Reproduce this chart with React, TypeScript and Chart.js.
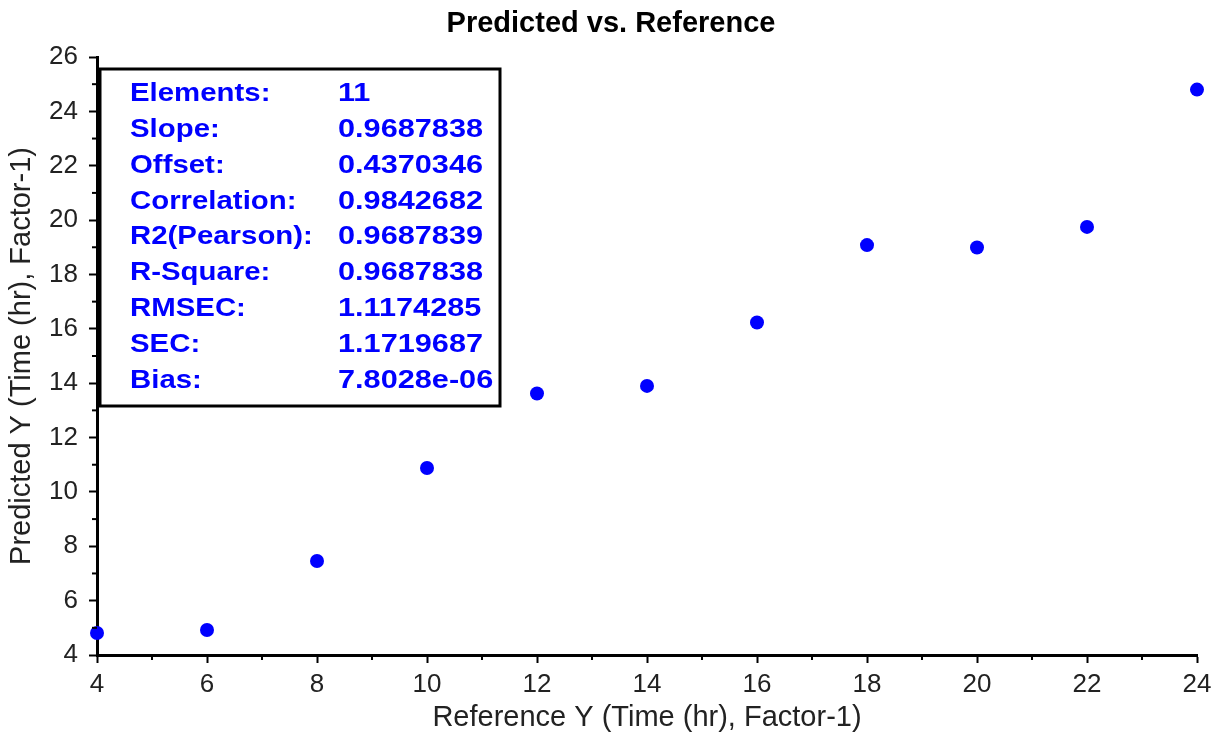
import { useEffect, useRef } from 'react';
import { Chart, registerables } from 'chart.js';

Chart.register(...registerables);

const referenceY = [4, 6, 8, 10, 12, 14, 16, 18, 20, 22, 24];
const predictedY = [4.81, 4.92, 7.46, 10.88, 13.62, 13.9, 16.23, 19.08, 18.99, 19.75, 24.8];

const statLabels = ['Elements:', 'Slope:', 'Offset:', 'Correlation:', 'R2(Pearson):', 'R-Square:', 'RMSEC:', 'SEC:', 'Bias:'];
const statValues = ['11', '0.9687838', '0.4370346', '0.9842682', '0.9687839', '0.9687838', '1.1174285', '1.1719687', '7.8028e-06'];

const chartTitle = 'Predicted vs. Reference';
const xAxisTitle = 'Reference Y (Time (hr), Factor-1)';
const yAxisTitle = 'Predicted Y (Time (hr), Factor-1)';

const xRange = [4, 24];
const yRange = [4, 26];
const majorStep = 2;

const FONT = 'Arial, "Liberation Sans", Helvetica, sans-serif';

const decorPlugin = {
  id: 'decor',
  afterDraw(chart: any) {
    const { ctx, chartArea } = chart;
    const xs = chart.scales.x;
    const ys = chart.scales.y;
    ctx.save();
    // minor ticks
    ctx.strokeStyle = '#000';
    ctx.lineWidth = 2;
    for (let v = xRange[0] + 1; v < xRange[1]; v += majorStep) {
      const px = xs.getPixelForValue(v);
      ctx.beginPath();
      ctx.moveTo(px, chartArea.bottom);
      ctx.lineTo(px, chartArea.bottom + 5);
      ctx.stroke();
    }
    for (let v = yRange[0] + 1; v < yRange[1]; v += majorStep) {
      const py = ys.getPixelForValue(v);
      ctx.beginPath();
      ctx.moveTo(chartArea.left, py);
      ctx.lineTo(chartArea.left - 5, py);
      ctx.stroke();
    }
    // title
    ctx.fillStyle = '#000';
    ctx.font = `bold 29px ${FONT}`;
    ctx.textAlign = 'center';
    ctx.textBaseline = 'middle';
    ctx.fillText(chartTitle, chart.width / 2, 24);

    // stats box
    const bx = chartArea.left + 3;
    const by = chartArea.top + 12;
    const bw = 400;
    const bh = 337;
    ctx.fillStyle = '#fff';
    ctx.fillRect(bx, by, bw, bh);
    ctx.strokeStyle = '#000';
    ctx.lineWidth = 3;
    ctx.strokeRect(bx, by, bw, bh);
    ctx.fillStyle = '#0000ff';
    ctx.font = `bold 26px ${FONT}`;
    ctx.textAlign = 'left';
    ctx.textBaseline = 'middle';
    for (let i = 0; i < statLabels.length; i++) {
      const ty = by + 25 + i * 35.8;
      ctx.save();
      ctx.translate(bx + 30, ty);
      ctx.scale(1.13, 1);
      ctx.fillText(statLabels[i], 0, 0);
      ctx.restore();
      ctx.save();
      ctx.translate(bx + 238, ty);
      ctx.scale(1.18, 1);
      ctx.fillText(statValues[i], 0, 0);
      ctx.restore();
    }
    ctx.restore();
  },
};

export default function App() {
  const ref = useRef<HTMLCanvasElement>(null);
  useEffect(() => {
    document.body.style.margin = '0';
    const chart = new Chart(ref.current!, {
      type: 'scatter',
      data: {
        datasets: [
          {
            label: 'Predicted',
            data: referenceY.map((x, i) => ({ x, y: predictedY[i] })),
            backgroundColor: '#0000ff',
            borderWidth: 0,
            pointRadius: 7,
            clip: false,
          },
        ],
      },
      options: {
        responsive: false,
        animation: false,
        layout: { padding: { top: 57, right: 25, left: 0, bottom: 0 } },
        plugins: { legend: { display: false }, tooltip: { enabled: false }, title: { display: false } },
        scales: {
          x: {
            type: 'linear',
            min: xRange[0],
            max: xRange[1],
            ticks: { stepSize: majorStep, color: '#222', font: { family: FONT, size: 26 }, padding: 6, maxRotation: 0 },
            grid: { drawOnChartArea: false, drawTicks: true, tickLength: 8, tickColor: '#000', tickWidth: 2 },
            border: { color: '#000', width: 3 },
            title: { display: true, text: xAxisTitle, color: '#222', font: { family: FONT, size: 29 }, padding: { top: 0, bottom: 0 } },
            afterFit: (s: any) => {
              s.height = 80;
            },
          },
          y: {
            type: 'linear',
            min: yRange[0],
            max: yRange[1],
            ticks: { stepSize: majorStep, color: '#222', font: { family: FONT, size: 26 }, padding: 11 },
            grid: { drawOnChartArea: false, drawTicks: true, tickLength: 8, tickColor: '#000', tickWidth: 2 },
            border: { color: '#000', width: 3 },
            title: { display: true, text: yAxisTitle, color: '#222', font: { family: FONT, size: 29 }, padding: { top: 5, bottom: 0 } },
            afterFit: (s: any) => {
              s.width = 97;
            },
          },
        },
      },
      plugins: [decorPlugin],
    });
    return () => chart.destroy();
  }, []);
  return (
    <div style={{ position: 'absolute', left: 0, top: 0, width: 1222, height: 735 }}>
      <canvas ref={ref} width={1222} height={735} style={{ display: 'block' }} />
    </div>
  );
}
